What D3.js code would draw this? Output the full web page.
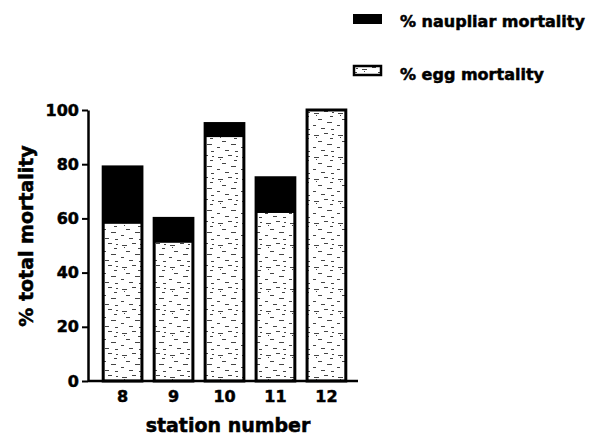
<!DOCTYPE html>
<html>
<head>
<meta charset="utf-8">
<script src="https://cdn.jsdelivr.net/npm/d3@7"></script>
<style>
  body { margin: 0; background: #fff; }
  text { font-family: "DejaVu Sans", sans-serif; font-weight: bold; fill: #000; stroke: #000; stroke-width: 0.5px; }
</style>
</head>
<body>
<div id="chart"></div>
<script>
// stations and mortality (%)
const stations = ['8', '9', '10', '11', '12'];
const eggMortality = [58, 51, 90, 62, 100];
const naupliarMortality = [21, 9, 5, 13, 0];
const yTicks = [0, 20, 40, 60, 80, 100];
const seriesNames = ['% naupliar mortality', '% egg mortality'];

const width = 589, height = 436;
const margin = { left: 88, right: 234, top: 110, bottom: 55 };

const svg = d3.select('#chart').append('svg')
  .attr('width', width)
  .attr('height', height);

// speckled fill for the egg bars
const defs = svg.append('defs');
const pat = defs.append('pattern')
  .attr('id', 'speckle')
  .attr('patternUnits', 'userSpaceOnUse')
  .attr('width', 24).attr('height', 22);
pat.append('rect').attr('width', 24).attr('height', 22).attr('fill', '#fff');
const dashes = [[2,3,5],[12,1,4],[18,6,3],[6,9,4],[15,12,5],[1,15,3],[9,18,4],[19,19,3],[4,5,1],[20,2,2]];
pat.selectAll('rect.d').data(dashes).enter().append('rect')
  .attr('class', 'd')
  .attr('x', d => d[0]).attr('y', d => d[1])
  .attr('width', d => d[2]).attr('height', 1)
  .attr('fill', '#444');

const x = d3.scaleBand()
  .domain(stations)
  .range([margin.left + 5, width - margin.right + 1])
  .paddingInner(0.24)
  .paddingOuter(0.2);

const y = d3.scaleLinear()
  .domain([0, 100])
  .range([height - margin.bottom, margin.top]);

// bars
const g = svg.append('g');
stations.forEach((s, i) => {
  const egg = eggMortality[i], naup = naupliarMortality[i];
  g.append('rect')
    .attr('x', x(s)).attr('width', x.bandwidth())
    .attr('y', y(egg)).attr('height', y(0) - y(egg))
    .attr('fill', 'url(#speckle)');
  if (naup > 0) {
    g.append('rect')
      .attr('x', x(s)).attr('width', x.bandwidth())
      .attr('y', y(egg + naup)).attr('height', y(egg) - y(egg + naup))
      .attr('fill', '#000');
  }
  g.append('rect')
    .attr('x', x(s)).attr('width', x.bandwidth())
    .attr('y', y(egg + naup)).attr('height', y(0) - y(egg + naup))
    .attr('fill', 'none')
    .attr('stroke', '#000')
    .attr('stroke-width', 3);
});

// axes
const yAxis = svg.append('g')
  .attr('transform', `translate(${margin.left},0)`)
  .call(d3.axisLeft(y).tickValues(yTicks).tickSize(6).tickSizeOuter(0));
yAxis.select('.domain').attr('stroke-width', 2.5);
yAxis.selectAll('.tick line').attr('stroke-width', 2);
yAxis.selectAll('.tick text').attr('font-size', 16).attr('x', -9);

const xAxis = svg.append('g')
  .attr('transform', `translate(0,${y(0)})`)
  .call(d3.axisBottom(x).tickSize(0).tickSizeOuter(0));
xAxis.select('.domain')
  .attr('d', `M${margin.left},0H${width - margin.right + 3}`)
  .attr('stroke-width', 2.5);
xAxis.selectAll('.tick text').attr('font-size', 16).attr('y', 10).attr('dy', '0.71em');

// axis titles
svg.append('text')
  .attr('x', 228).attr('y', 432)
  .attr('text-anchor', 'middle')
  .attr('font-size', 19)
  .text('station number');

svg.append('text')
  .attr('transform', 'translate(33,236) rotate(-90)')
  .attr('text-anchor', 'middle')
  .attr('font-size', 19)
  .text('% total mortality');

// legend
const legend = svg.append('g');
legend.append('rect')
  .attr('x', 353).attr('y', 14).attr('width', 29).attr('height', 10)
  .attr('fill', '#000');
legend.append('text')
  .attr('x', 400).attr('y', 27)
  .attr('font-size', 16)
  .text(seriesNames[0]);
legend.append('rect')
  .attr('x', 354).attr('y', 66).attr('width', 27).attr('height', 9)
  .attr('fill', 'url(#speckle)')
  .attr('stroke', '#000').attr('stroke-width', 2.5);
legend.append('text')
  .attr('x', 400).attr('y', 80)
  .attr('font-size', 16)
  .text(seriesNames[1]);
</script>
</body>
</html>
